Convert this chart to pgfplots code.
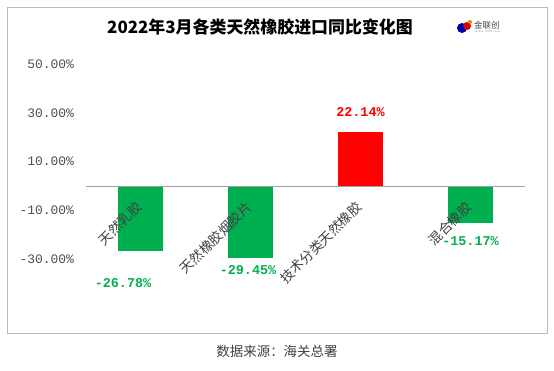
\documentclass[border=0pt]{standalone}
\usepackage{pgfplots}
\pgfplotsset{compat=1.18}
\usepackage{fontspec}
\newfontfamily\cjk{Noto Sans CJK SC}
\newfontfamily\mono{Liberation Mono}
\definecolor{bargreen}{RGB}{0,176,80}
\definecolor{barred}{RGB}{255,0,0}
\definecolor{tickgray}{RGB}{80,80,80}
\definecolor{labgray}{RGB}{64,64,64}
\definecolor{framegray}{RGB}{185,185,185}
\begin{document}
\begin{tikzpicture}
\useasboundingbox (0,0) rectangle (554bp,-371bp);
\draw[framegray, line width=1bp] (7bp,-7bp) rectangle (547bp,-333bp);
\begin{axis}[
  at={(85.5bp,-283.2bp)}, anchor=south west,
  scale only axis, width=440bp, height=230.85bp,
  xmin=-0.5, xmax=3.5, ymin=-40, ymax=55,
  ybar, bar shift=0pt, bar width=45bp,
  axis on top,
  axis x line=middle, axis y line=left,
  x axis line style={-, draw={rgb,255:red,160;green,160;blue,160}, line width=0.8bp},
  y axis line style={draw=none},
  major tick length=0pt,
  xtick={0,1,2,3},
  xticklabels={天然乳胶,天然橡胶烟胶片,技术分类天然橡胶,混合橡胶},
  xticklabel style={xshift=-6bp, yshift=-14bp, font=\cjk\fontsize{13.5}{13.5}\selectfont, text=labgray, rotate=45, anchor=north east, inner sep=0pt},
  ytick={-30,-10,10,30,50},
  yticklabels={-30.00\%,-10.00\%,10.00\%,30.00\%,50.00\%},
  yticklabel style={font=\mono\fontsize{13}{13}\selectfont, text=tickgray, anchor=east, xshift=-8bp},
  point meta=explicit symbolic,
  nodes near coords,
  clip=false,
]
\addplot[fill=bargreen, draw=none, nodes near coords style={font=\mono\bfseries\fontsize{13.5}{13.5}\selectfont, text=bargreen, anchor=center, xshift=-17.5bp, yshift=-32bp}]
  coordinates {(0,-26.78) [-26.78\%]};
\addplot[fill=bargreen, draw=none, nodes near coords style={font=\mono\bfseries\fontsize{13.5}{13.5}\selectfont, text=bargreen, anchor=center, xshift=-2.5bp, yshift=-12bp}]
  coordinates {(1,-29.45) [-29.45\%]};
\addplot[fill=barred, draw=none, nodes near coords style={font=\mono\bfseries\fontsize{13.5}{13.5}\selectfont, text=barred, anchor=center, yshift=20bp}]
  coordinates {(2,22.14) [22.14\%]};
\addplot[fill=bargreen, draw=none, nodes near coords style={font=\mono\bfseries\fontsize{13.5}{13.5}\selectfont, text=bargreen, anchor=center, yshift=-18bp}]
  coordinates {(3,-15.17) [-15.17\%]};
\end{axis}
\node[font=\cjk\bfseries\fontsize{17}{17}\selectfont, text=black] at (260bp,-27bp) {2022年3月各类天然橡胶进口同比变化图};
% logo
\fill[blue!70!black] (462bp,-28bp) circle (5bp);
\fill[red!85!black] (467bp,-26bp) circle (4bp);
\fill[orange] (470bp,-22bp) circle (2bp);
\node[font=\cjk\fontsize{8.5}{8.5}\selectfont, text=labgray, anchor=west, inner sep=0pt] at (474bp,-25bp) {金联创};
\node[font=\fontsize{3}{3}\selectfont, text=gray, anchor=west, inner sep=0pt] at (475bp,-32bp) {www.315i.com};
\node[font=\cjk\fontsize{13.5}{13.5}\selectfont, text=labgray] at (277bp,-351bp) {数据来源：海关总署};
\end{tikzpicture}
\end{document}
